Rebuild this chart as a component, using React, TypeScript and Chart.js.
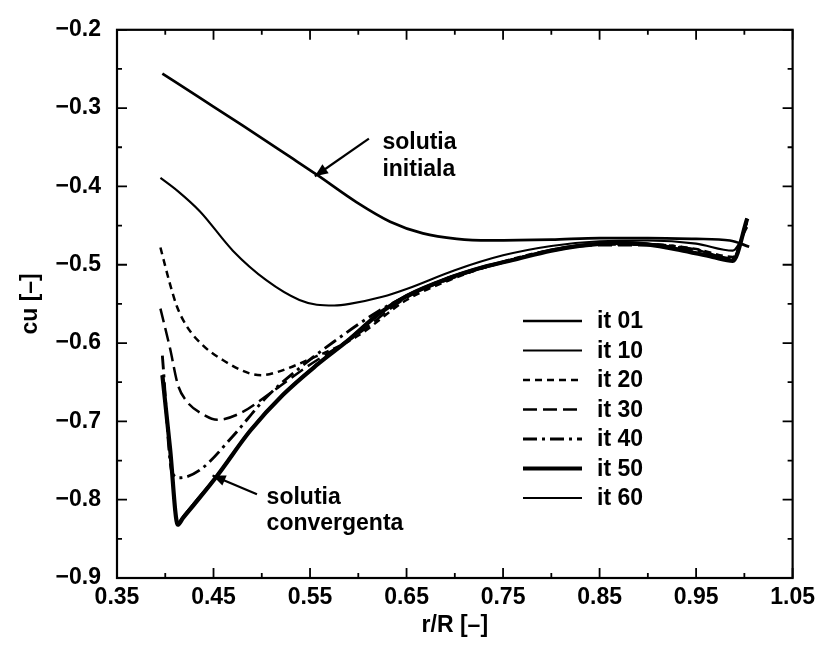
import React, { useEffect, useRef } from 'react';
import { Chart, registerables } from 'chart.js';

Chart.register(...registerables);

// ---- tick values ----
const xMajorTicks = [0.35, 0.45, 0.55, 0.65, 0.75, 0.85, 0.95, 1.05];
const xMinorTicks = [0.4, 0.5, 0.6, 0.7, 0.8, 0.9, 1.0];
const yMajorTicks = [-0.9, -0.8, -0.7, -0.6, -0.5, -0.4, -0.3, -0.2];
const yMinorTicks = [-0.85, -0.75, -0.65, -0.55, -0.45, -0.35, -0.25];

// ---- series ----
const it01X = [0.397, 0.436, 0.48, 0.529, 0.557, 0.598, 0.633, 0.667, 0.702, 0.736, 0.8, 0.85, 0.9, 0.95, 0.985, 1.005];
const it01Y = [-0.256, -0.287, -0.322, -0.362, -0.385, -0.42, -0.445, -0.46, -0.467, -0.469, -0.468, -0.466, -0.466, -0.467, -0.469, -0.477];

const it10X = [0.395, 0.413, 0.436, 0.47, 0.505, 0.539, 0.557, 0.575, 0.591, 0.625, 0.65, 0.7, 0.75, 0.8, 0.85, 0.9, 0.95, 0.988, 1.003];
const it10Y = [-0.389, -0.406, -0.432, -0.482, -0.52, -0.545, -0.551, -0.552, -0.55, -0.541, -0.531, -0.507, -0.488, -0.476, -0.47, -0.469, -0.473, -0.482, -0.452];

const it20X = [0.395, 0.405, 0.412, 0.422, 0.439, 0.46, 0.488, 0.5, 0.516, 0.547, 0.598, 0.65, 0.7, 0.75, 0.8, 0.85, 0.9, 0.95, 0.988, 1.003];
const it20Y = [-0.478, -0.525, -0.553, -0.578, -0.603, -0.622, -0.639, -0.641, -0.637, -0.622, -0.592, -0.545, -0.517, -0.496, -0.481, -0.474, -0.474, -0.48, -0.49, -0.445];

const it30X = [0.395, 0.405, 0.413, 0.422, 0.439, 0.454, 0.477, 0.511, 0.547, 0.575, 0.598, 0.65, 0.7, 0.75, 0.8, 0.85, 0.9, 0.95, 0.988, 1.003];
const it30Y = [-0.556, -0.607, -0.653, -0.674, -0.691, -0.698, -0.69, -0.662, -0.63, -0.608, -0.59, -0.542, -0.516, -0.497, -0.482, -0.475, -0.475, -0.481, -0.492, -0.444];

const it40X = [0.397, 0.407, 0.415, 0.436, 0.47, 0.505, 0.539, 0.575, 0.62, 0.65, 0.7, 0.75, 0.8, 0.85, 0.9, 0.95, 0.988, 1.003];
const it40Y = [-0.616, -0.765, -0.772, -0.762, -0.719, -0.669, -0.632, -0.598, -0.56, -0.54, -0.514, -0.497, -0.482, -0.474, -0.474, -0.481, -0.493, -0.443];

const it50X = [0.397, 0.405, 0.413, 0.418, 0.43, 0.454, 0.488, 0.522, 0.557, 0.591, 0.622, 0.65, 0.692, 0.73, 0.76, 0.8, 0.829, 0.87, 0.899, 0.933, 0.967, 0.988, 1.003];
const it50Y = [-0.641, -0.735, -0.832, -0.824, -0.806, -0.769, -0.712, -0.666, -0.628, -0.595, -0.562, -0.54, -0.518, -0.503, -0.494, -0.482, -0.476, -0.472, -0.474, -0.481, -0.49, -0.495, -0.441];

const it60X = [0.397, 0.405, 0.413, 0.418, 0.43, 0.454, 0.488, 0.522, 0.557, 0.591, 0.622, 0.65, 0.692, 0.73, 0.76, 0.8, 0.829, 0.87, 0.899, 0.933, 0.967, 0.988, 1.003];
const it60Y = [-0.641, -0.735, -0.83, -0.822, -0.804, -0.768, -0.711, -0.665, -0.627, -0.594, -0.561, -0.539, -0.517, -0.502, -0.493, -0.481, -0.475, -0.471, -0.473, -0.48, -0.489, -0.494, -0.441];

const seriesLabels = ['it 01', 'it 10', 'it 20', 'it 30', 'it 40', 'it 50', 'it 60'];
const seriesX = [it01X, it10X, it20X, it30X, it40X, it50X, it60X];
const seriesY = [it01Y, it10Y, it20Y, it30Y, it40Y, it50Y, it60Y];
const seriesWidth = [2.7, 2.1, 2.5, 2.5, 2.9, 4.2, 2.2];
const seriesDash: number[][] = [[], [], [7, 5], [14, 6], [14, 5, 3, 5], [], []];

// ---- annotations (data coordinates) ----
const noteInitialText = ['solutia', 'initiala'];
const noteInitialTip = { x: 0.555, y: -0.387 };
const noteInitialTail = { x: 0.611, y: -0.339 };
const noteInitialAt = { x: 0.625, y1: -0.344, y2: -0.378 };

const noteConvText = ['solutia', 'convergenta'];
const noteConvTip = { x: 0.449, y: -0.769 };
const noteConvTail = { x: 0.495, y: -0.793 };
const noteConvAt = { x: 0.505, y1: -0.798, y2: -0.831 };

const FONT = '"Liberation Sans", Arial, Helvetica, sans-serif';
const FS = 23;

function arrow(ctx: CanvasRenderingContext2D, x1: number, y1: number, x2: number, y2: number) {
  ctx.beginPath();
  ctx.moveTo(x1, y1);
  ctx.lineTo(x2, y2);
  ctx.lineWidth = 2.2;
  ctx.stroke();
  const ang = Math.atan2(y2 - y1, x2 - x1);
  const L = 13, W = 5.5;
  ctx.beginPath();
  ctx.moveTo(x2, y2);
  ctx.lineTo(x2 - L * Math.cos(ang) + W * Math.sin(ang), y2 - L * Math.sin(ang) - W * Math.cos(ang));
  ctx.lineTo(x2 - L * Math.cos(ang) - W * Math.sin(ang), y2 - L * Math.sin(ang) + W * Math.cos(ang));
  ctx.closePath();
  ctx.fill();
}

const decorPlugin = {
  id: 'decor',
  afterDraw(chart: any) {
    const { ctx, chartArea: a } = chart;
    const xs = chart.scales.x;
    const ys = chart.scales.y;
    ctx.save();
    ctx.strokeStyle = '#000';
    ctx.fillStyle = '#000';
    ctx.setLineDash([]);
    // frame
    ctx.lineWidth = 2.2;
    ctx.strokeRect(a.left, a.top, a.right - a.left, a.bottom - a.top);
    // ticks
    ctx.lineWidth = 1.8;
    const drawX = (v: number, len: number) => {
      const px = xs.getPixelForValue(v);
      ctx.beginPath();
      ctx.moveTo(px, a.bottom); ctx.lineTo(px, a.bottom - len);
      ctx.moveTo(px, a.top); ctx.lineTo(px, a.top + len);
      ctx.stroke();
    };
    const drawY = (v: number, len: number) => {
      const py = ys.getPixelForValue(v);
      ctx.beginPath();
      ctx.moveTo(a.left, py); ctx.lineTo(a.left + len, py);
      ctx.moveTo(a.right, py); ctx.lineTo(a.right - len, py);
      ctx.stroke();
    };
    xMajorTicks.forEach((v) => drawX(v, 10));
    xMinorTicks.forEach((v) => drawX(v, 5));
    yMajorTicks.forEach((v) => drawY(v, 10));
    yMinorTicks.forEach((v) => drawY(v, 5));

    // axis titles
    ctx.font = `bold ${FS}px ${FONT}`;
    ctx.textAlign = 'center';
    ctx.textBaseline = 'middle';
    ctx.fillText('r/R [–]', (a.left + a.right) / 2, 626);
    ctx.save();
    ctx.translate(31, (a.top + a.bottom) / 2);
    ctx.rotate(-Math.PI / 2);
    ctx.fillText('cu [–]', 0, 0);
    ctx.restore();

    // legend
    const lx1 = 523, lx2 = 582, tx = 597, ty0 = 321, dy = 29.5;
    seriesLabels.forEach((lab, i) => {
      const yy = ty0 + i * dy;
      ctx.beginPath();
      ctx.setLineDash(seriesDash[i]);
      ctx.lineWidth = seriesWidth[i];
      ctx.moveTo(lx1, yy);
      ctx.lineTo(lx2, yy);
      ctx.stroke();
      ctx.setLineDash([]);
      ctx.textAlign = 'left';
      ctx.fillText(lab, tx, yy + 1);
    });

    // annotations
    ctx.textAlign = 'left';
    arrow(ctx, xs.getPixelForValue(noteInitialTail.x), ys.getPixelForValue(noteInitialTail.y),
      xs.getPixelForValue(noteInitialTip.x), ys.getPixelForValue(noteInitialTip.y));
    ctx.fillText(noteInitialText[0], xs.getPixelForValue(noteInitialAt.x), ys.getPixelForValue(noteInitialAt.y1));
    ctx.fillText(noteInitialText[1], xs.getPixelForValue(noteInitialAt.x), ys.getPixelForValue(noteInitialAt.y2));
    arrow(ctx, xs.getPixelForValue(noteConvTail.x), ys.getPixelForValue(noteConvTail.y),
      xs.getPixelForValue(noteConvTip.x), ys.getPixelForValue(noteConvTip.y));
    ctx.fillText(noteConvText[0], xs.getPixelForValue(noteConvAt.x), ys.getPixelForValue(noteConvAt.y1));
    ctx.fillText(noteConvText[1], xs.getPixelForValue(noteConvAt.x), ys.getPixelForValue(noteConvAt.y2));
    ctx.restore();
  },
};

export default function App() {
  const ref = useRef<HTMLCanvasElement>(null);
  useEffect(() => {
    if (!ref.current) return;
    const datasets = seriesLabels.map((lab, i) => ({
      label: lab,
      data: seriesX[i].map((x, j) => ({ x, y: seriesY[i][j] })),
      showLine: true,
      borderColor: '#000',
      backgroundColor: '#000',
      borderWidth: seriesWidth[i],
      borderDash: seriesDash[i],
      pointRadius: 0,
      fill: false,
      cubicInterpolationMode: 'monotone' as const,
    }));
    const chart = new Chart(ref.current, {
      type: 'scatter',
      data: { datasets },
      options: {
        animation: false,
        responsive: false,
        devicePixelRatio: 1,
        layout: { padding: { top: 17, right: 28, left: 0, bottom: 0 } },
        plugins: { legend: { display: false }, tooltip: { enabled: false } },
        scales: {
          x: {
            type: 'linear',
            min: 0.35,
            max: 1.05,
            afterBuildTicks: (s: any) => { s.ticks = xMajorTicks.map((v) => ({ value: v })); },
            afterFit: (s: any) => { s.height = 70; },
            grid: { display: false, drawTicks: false },
            border: { display: false },
            ticks: {
              color: '#000',
              font: { family: FONT, size: FS, weight: 'bold' },
              padding: 6,
              maxRotation: 0,
              autoSkip: false,
              callback: (v: any) => Number(v).toFixed(2),
            },
          },
          y: {
            type: 'linear',
            min: -0.9,
            max: -0.2,
            afterBuildTicks: (s: any) => { s.ticks = yMajorTicks.map((v) => ({ value: v })); },
            afterFit: (s: any) => { s.width = 117; },
            grid: { display: false, drawTicks: false },
            border: { display: false },
            ticks: {
              color: '#000',
              font: { family: FONT, size: FS, weight: 'bold' },
              padding: 16,
              autoSkip: false,
              callback: (v: any) => '−' + Math.abs(Number(v)).toFixed(1),
            },
          },
        },
      },
      plugins: [decorPlugin],
    });
    return () => chart.destroy();
  }, []);
  return (
    <div style={{ position: 'fixed', left: 0, top: 0, width: 821, height: 648, background: '#fff' }}>
      <canvas ref={ref} width={821} height={648} style={{ display: 'block' }} />
    </div>
  );
}
